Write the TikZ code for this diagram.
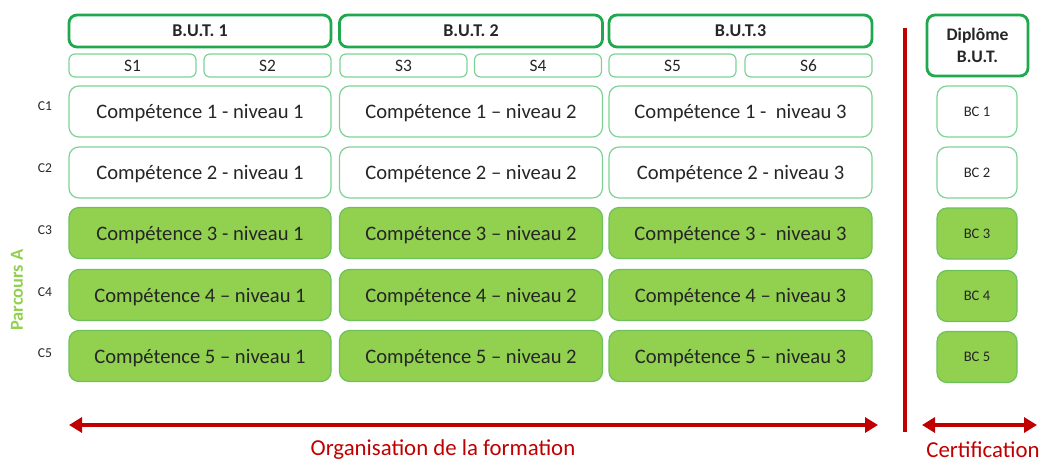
\documentclass[tikz,border=0pt]{standalone}
\usepackage{fontspec}
\setmainfont{Carlito}
\usetikzlibrary{arrows.meta}
\definecolor{darkg}{HTML}{1FA84E}
\definecolor{lightg}{HTML}{7DD394}
\definecolor{fillg}{HTML}{92D050}
\definecolor{fillgb}{HTML}{6CC15A}
\definecolor{redc}{HTML}{C00000}
\definecolor{txt}{HTML}{262626}
\tikzset{
  yearbox/.style={draw=darkg, line width=1.4pt, rounded corners=4pt, minimum height=16pt, minimum width=131pt, inner sep=0pt, font=\bfseries\fontsize{9}{11}\selectfont, text=txt},
  sembox/.style={draw=lightg, line width=0.6pt, rounded corners=3pt, minimum height=11.5pt, minimum width=63.5pt, inner sep=0pt, font=\fontsize{8.7}{10}\selectfont, text=txt},
  compbox/.style={draw=lightg, line width=0.6pt, rounded corners=5pt, minimum height=25.5pt, minimum width=131pt, inner sep=0pt, font=\fontsize{10.3}{12}\selectfont, text=txt, text depth=0pt, text height=0.72em},
  compfill/.style={compbox, fill=fillg, draw=fillgb},
  bcbox/.style={draw=lightg, line width=0.6pt, rounded corners=5pt, minimum height=25.5pt, minimum width=40pt, inner sep=0pt, font=\fontsize{7.3}{9}\selectfont, text=txt},
  bcfill/.style={bcbox, fill=fillg, draw=fillgb},
  clabel/.style={font=\fontsize{6.8}{8}\selectfont, text=txt, inner sep=0pt},
  redarrow/.style={draw=redc, line width=1.6pt, {Triangle[length=6.5pt,width=7.5pt]}-{Triangle[length=6.5pt,width=7.5pt]}},
}
\begin{document}
\begin{tikzpicture}[x=0.5pt,y=-0.5pt]
\useasboundingbox (0,0) rectangle (1042,461);
% years
\node[yearbox] (y1) at (200,31) {B.U.T. 1};
\node[yearbox, minimum width=131.5pt] (y2) at (471,31) {B.U.T. 2};
\node[yearbox, minimum width=131.5pt] (y3) at (740.5,31) {B.U.T.3};
% semesters
\node[sembox] (s1) at (132.5,65.5) {S1};
\node[sembox] (s2) at (267.5,65.5) {S2};
\node[sembox] (s3) at (403.5,65.5) {S3};
\node[sembox] (s4) at (538,65.5) {S4};
\node[sembox] (s5) at (672.5,65.5) {S5};
\node[sembox] (s6) at (808.5,65.5) {S6};
% row labels
\node[clabel] (c1) at (45,106) {C1};
\node[clabel] (c2) at (45,168) {C2};
\node[clabel] (c3) at (45,230) {C3};
\node[clabel] (c4) at (45,292) {C4};
\node[clabel] (c5) at (45,353) {C5};
\node[rotate=90, text=fillg, font=\bfseries\fontsize{9.2}{11}\selectfont, inner sep=0pt] (pa) at (17,290) {Parcours A};
% competences row 1
\node[compbox] (r1a) at (200,111.5) {Compétence 1 - niveau 1};
\node[compbox, minimum width=131.5pt] (r1b) at (471,111.5) {Compétence 1 – niveau 2};
\node[compbox, minimum width=131.5pt] (r1c) at (740.5,111.5) {Compétence 1 -~~niveau 3};
% row 2
\node[compbox] (r2a) at (200,172.5) {Compétence 2 - niveau 1};
\node[compbox, minimum width=131.5pt] (r2b) at (471,172.5) {Compétence 2 – niveau 2};
\node[compbox, minimum width=131.5pt] (r2c) at (740.5,172.5) {Compétence 2 - niveau 3};
% row 3
\node[compfill] (r3a) at (200,233) {Compétence 3 - niveau 1};
\node[compfill, minimum width=131.5pt] (r3b) at (471,233) {Compétence 3 – niveau 2};
\node[compfill, minimum width=131.5pt] (r3c) at (740.5,233) {Compétence 3 -~~niveau 3};
% row 4
\node[compfill] (r4a) at (200,295) {Compétence 4 – niveau 1};
\node[compfill, minimum width=131.5pt] (r4b) at (471,295) {Compétence 4 – niveau 2};
\node[compfill, minimum width=131.5pt] (r4c) at (740.5,295) {Compétence 4 – niveau 3};
% row 5
\node[compfill] (r5a) at (200,356) {Compétence 5 – niveau 1};
\node[compfill, minimum width=131.5pt] (r5b) at (471,356) {Compétence 5 – niveau 2};
\node[compfill, minimum width=131.5pt] (r5c) at (740.5,356) {Compétence 5 – niveau 3};
% diploma
\node[yearbox, minimum width=50.5pt, minimum height=30.5pt, align=center, font=\bfseries\fontsize{8.8}{11}\selectfont] (dip) at (977.5,45.5) {Diplôme\\B.U.T.};
\node[bcbox] (bc1) at (977,111.5) {BC 1};
\node[bcbox] (bc2) at (977,172.5) {BC 2};
\node[bcfill] (bc3) at (977,233.5) {BC 3};
\node[bcfill] (bc4) at (977,296) {BC 4};
\node[bcfill] (bc5) at (977,357) {BC 5};
% red separator
\coordinate (vt) at (905,28);
\coordinate (vb) at (905,432);
\draw[redc, line width=1.7pt] (vt) -- (vb);
% arrows
\coordinate (oa) at (69,425);
\coordinate (ob) at (878,425);
\coordinate (ca) at (922,425);
\coordinate (cb) at (1037,425);
\draw[redarrow] (oa) -- (ob);
\draw[redarrow] (ca) -- (cb);
\node[text=redc, font=\fontsize{11.4}{13}\selectfont, inner sep=0pt] (org) at (443,450) {Organisation de la formation};
\node[text=redc, font=\fontsize{11.4}{13}\selectfont, inner sep=0pt] (cert) at (983,450) {Certification};
\end{tikzpicture}
\end{document}
